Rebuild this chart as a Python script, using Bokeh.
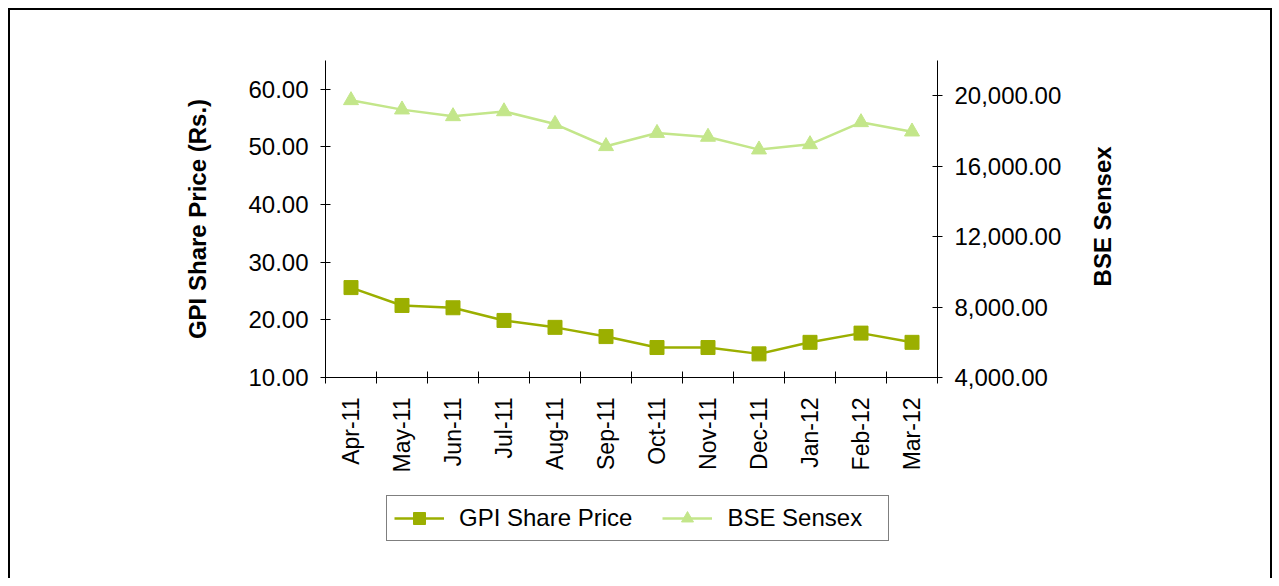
from bokeh.plotting import figure
from bokeh.layouts import column
from bokeh.models import (Range1d, LinearAxis, FixedTicker, NumeralTickFormatter,
                          CustomJSTickFormatter, Legend, LegendItem)
from bokeh.embed import file_html
from bokeh.resources import INLINE
import math

months = ["Apr-11", "May-11", "Jun-11", "Jul-11", "Aug-11", "Sep-11",
          "Oct-11", "Nov-11", "Dec-11", "Jan-12", "Feb-12", "Mar-12"]
gpi_price = [25.6, 22.5, 22.1, 19.9, 18.7, 17.1, 15.2, 15.2, 14.1, 16.1, 17.7, 16.1]
bse_sensex = [19740, 19210, 18830, 19110, 18390, 17130, 17880, 17660, 16940, 17240, 18490, 17960]
left_ticks = [10, 20, 30, 40, 50, 60]
right_ticks = [4000, 8000, 12000, 16000, 20000]
series_names = ["GPI Share Price", "BSE Sensex"]
left_title = "GPI Share Price (Rs.)"
right_title = "BSE Sensex"

GPI_COLOR = "#9BAF00"
BSE_COLOR = "#C3E68A"
FONT = "Liberation Sans"

xs = [i + 0.5 for i in range(len(months))]

p = figure(width=1260, height=470, output_backend="svg", toolbar_location=None,
           x_range=Range1d(0, len(months)), y_range=Range1d(10, 65),
           min_border_left=315, min_border_right=333, min_border_top=50,
           min_border_bottom=103)
p.outline_line_color = None
p.xgrid.visible = False
p.ygrid.visible = False
p.background_fill_color = "white"
p.border_fill_color = "white"

p.extra_y_ranges = {"bse": Range1d(4000, 22000)}

# x axis
xa = p.xaxis[0]
xa.ticker = FixedTicker(ticks=xs, minor_ticks=list(range(len(months) + 1)))
xa.formatter = CustomJSTickFormatter(args=dict(labels=months),
                                     code="return labels[Math.floor(tick)] || '';")
xa.major_tick_in = 0
xa.major_tick_out = 0
xa.minor_tick_in = 6
xa.minor_tick_out = 6
xa.minor_tick_line_color = "black"
xa.axis_line_color = "black"
xa.major_label_orientation = math.pi / 2
xa.major_label_standoff = 14
xa.major_label_text_font = FONT
xa.major_label_text_font_size = "23px"
xa.major_label_text_color = "black"

# left axis
ya = p.yaxis[0]
ya.ticker = FixedTicker(ticks=left_ticks)
ya.formatter = NumeralTickFormatter(format="0.00")
ya.major_tick_in = 5
ya.major_tick_out = 5
ya.minor_tick_line_color = None
ya.axis_line_color = "black"
ya.major_label_standoff = 12
ya.major_label_text_font = FONT
ya.major_label_text_font_size = "24px"
ya.major_label_text_color = "black"
ya.axis_label = left_title
ya.axis_label_text_font = FONT
ya.axis_label_text_font_style = "bold"
ya.axis_label_text_font_size = "24px"
ya.axis_label_text_color = "black"
ya.axis_label_standoff = 34

# right axis
ra = LinearAxis(y_range_name="bse", ticker=FixedTicker(ticks=right_ticks),
                formatter=NumeralTickFormatter(format="0,0.00"))
ra.major_tick_in = 5
ra.major_tick_out = 5
ra.minor_tick_line_color = None
ra.axis_line_color = "black"
ra.major_label_standoff = 12
ra.major_label_text_font = FONT
ra.major_label_text_font_size = "24px"
ra.major_label_text_color = "black"
p.add_layout(ra, "right")

# right-hand title, written bottom-to-top, carried by a bare axis
TITLE_ANCHOR = 25.8  # left-scale level where the rotated title starts
ta = LinearAxis(ticker=FixedTicker(ticks=[TITLE_ANCHOR]),
                major_label_overrides={TITLE_ANCHOR: right_title})
ta.axis_line_color = None
ta.major_tick_line_color = None
ta.minor_tick_line_color = None
ta.major_tick_in = 0
ta.major_tick_out = 0
ta.major_label_orientation = math.pi / 2
ta.major_label_standoff = 38
ta.major_label_text_font = FONT
ta.major_label_text_font_style = "bold"
ta.major_label_text_font_size = "24px"
ta.major_label_text_color = "black"
p.add_layout(ta, "right")

# series
p.line(xs, gpi_price, line_color=GPI_COLOR, line_width=2.5)
p.scatter(xs, gpi_price, marker="square", size=14, fill_color=GPI_COLOR,
          line_color=GPI_COLOR)
p.line(xs, bse_sensex, line_color=BSE_COLOR, line_width=2.5, y_range_name="bse")
p.scatter(xs, bse_sensex, marker="triangle", size=15, fill_color=BSE_COLOR,
          line_color=BSE_COLOR, y_range_name="bse")

# legend strip: a separate figure whose view window shows none of the series,
# so only its (unclipped) legend is seen
q = figure(width=1260, height=98, output_backend="svg", toolbar_location=None,
           x_range=Range1d(-3, -2), y_range=Range1d(0, 1),
           x_axis_location=None, y_axis_location=None, min_border=0)
q.outline_line_color = None
q.xgrid.visible = False
q.ygrid.visible = False
q.background_fill_color = "white"
q.border_fill_color = "white"
ql1 = q.line(xs, gpi_price, line_color=GPI_COLOR, line_width=2.5)
qm1 = q.scatter(xs, gpi_price, marker="square", size=13, fill_color=GPI_COLOR,
                line_color=GPI_COLOR)
ql2 = q.line(xs, bse_sensex, line_color=BSE_COLOR, line_width=2.5)
qm2 = q.scatter(xs, bse_sensex, marker="triangle", size=13, fill_color=BSE_COLOR,
                line_color=BSE_COLOR)

legend = Legend(items=[LegendItem(label=series_names[0], renderers=[ql1, qm1]),
                       LegendItem(label=series_names[1], renderers=[ql2, qm2])],
                orientation="horizontal", location=(61, 37))
legend.border_line_color = "black"
legend.border_line_width = 1
legend.background_fill_color = "white"
legend.label_text_font = FONT
legend.label_text_font_size = "24px"
legend.label_text_color = "black"
legend.label_width = 154
legend.glyph_width = 50
legend.glyph_height = 30
legend.label_standoff = 15
legend.spacing = 30
legend.padding = 7
legend.margin = 0
q.add_layout(legend)

layout = column(p, q, spacing=0)
layout.styles = {"border-left": "2px solid black", "border-top": "2px solid black",
                 "border-right": "2px solid black", "margin-left": "8px", "margin-top": "8px"}

open("out.html", "w").write(file_html(layout, INLINE))
